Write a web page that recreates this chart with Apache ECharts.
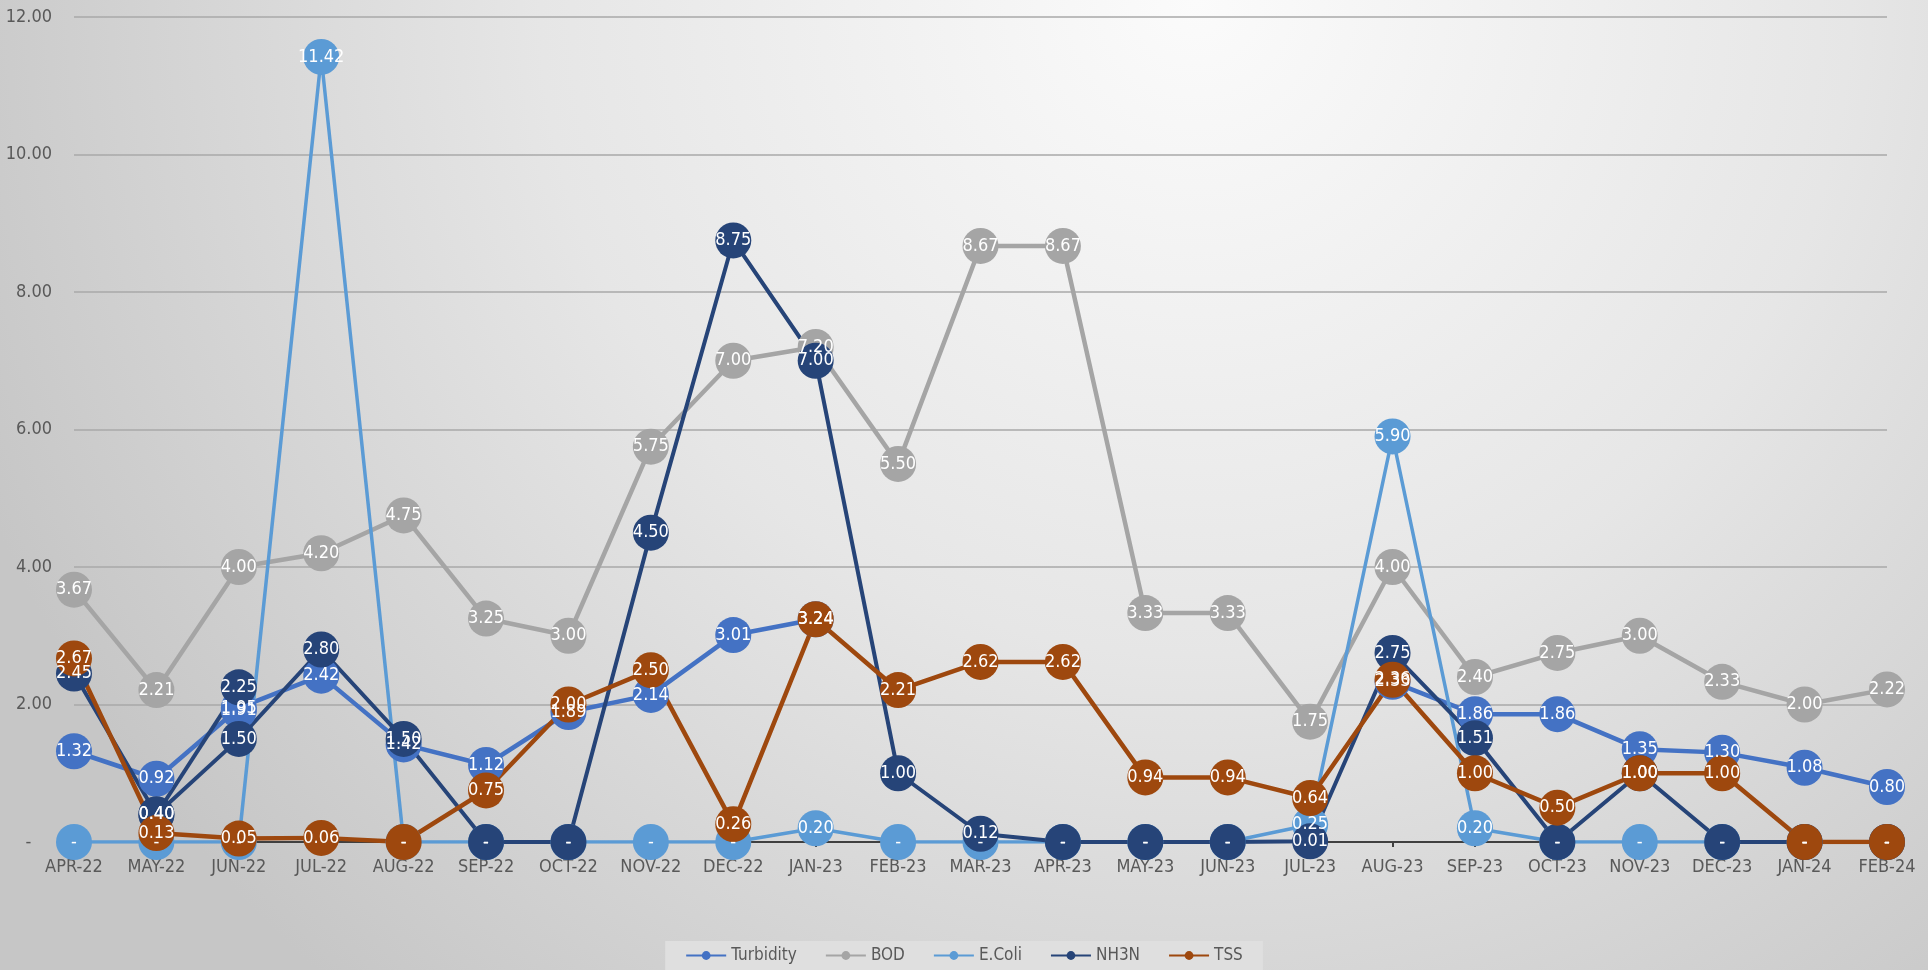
<!DOCTYPE html>
<html>
<head>
<meta charset="utf-8">
<title>Water quality</title>
<script src="https://cdn.jsdelivr.net/npm/echarts@6/dist/echarts.min.js"></script>
<style>
  html, body { margin: 0; padding: 0; }
  #chartLine { width: 1928px; height: 970px; }
</style>
</head>
<body>
<div id="chartLine"></div>
<script>
// months
var months = ["APR-22", "MAY-22", "JUN-22", "JUL-22", "AUG-22", "SEP-22", "OCT-22", "NOV-22",
  "DEC-22", "JAN-23", "FEB-23", "MAR-23", "APR-23", "MAY-23", "JUN-23", "JUL-23", "AUG-23",
  "SEP-23", "OCT-23", "NOV-23", "DEC-23", "JAN-24", "FEB-24"];

var turbidity = [1.32, 0.92, 1.95, 2.42, 1.42, 1.12, 1.89, 2.14, 3.01, 3.24, null, null, null,
  null, null, null, 2.33, 1.86, 1.86, 1.35, 1.30, 1.08, 0.80];
var bod = [3.67, 2.21, 4.00, 4.20, 4.75, 3.25, 3.00, 5.75, 7.00, 7.20, 5.50, 8.67, 8.67,
  3.33, 3.33, 1.75, 4.00, 2.40, 2.75, 3.00, 2.33, 2.00, 2.22];
var ecoli = [0, 0, 0, 11.42, 0, 0, 0, 0, 0, 0.20, 0, 0, 0,
  0, 0, 0.25, 5.90, 0.20, 0, 0, 0, 0, 0];
var nh3n = [2.45, 0.40, 1.50, 2.80, 1.50, 0, 0, 4.50, 8.75, 7.00, 1.00, 0.12, 0,
  0, 0, 0.01, 2.75, 1.51, 0, 1.00, 0, 0, 0];
var tss = [2.67, 0.13, 0.05, 0.06, 0, 0.75, 2.00, 2.50, 0.26, 3.24, 2.21, 2.62, 2.62,
  0.94, 0.94, 0.64, 2.36, 1.00, 0.50, 1.00, 1.00, 0, 0];
// second readings for JUN-22 (no legend entry in the original)
var turbidityDup = [null, null, 1.91];
var nh3nDup = [null, 0.40, 2.25];

var yTicks = { min: 0, max: 12, step: 2 };

var labelFont = "'Liberation Sans Narrow', 'DejaVu Sans Condensed', sans-serif";

function fmt(v) {
  if (v === 0) return "-";
  return Number(v).toFixed(2);
}

function makeSeries(name, data, color, width) {
  return {
    name: name,
    type: "line",
    data: data,
    symbol: "circle",
    symbolSize: 36,
    showAllSymbol: true,
    connectNulls: false,
    lineStyle: { color: color, width: width },
    itemStyle: { color: color },
    label: {
      show: true,
      position: "inside",
      color: "#fff",
      fontFamily: labelFont,
      fontSize: 18,
      formatter: function (p) { return fmt(p.value); }
    }
  };
}

var chartLine = echarts.init(document.getElementById("chartLine"));
chartLine.setOption({
  animation: false,
  backgroundColor: {
    type: "radial",
    x: 0.62,
    y: 0,
    r: 1.35,
    colorStops: [
      { offset: 0, color: "#fbfbfb" },
      { offset: 0.5, color: "#e6e6e6" },
      { offset: 1, color: "#c6c6c6" }
    ]
  },
  legend: {
    bottom: 0,
    left: "center",
    data: ["Turbidity", "BOD", "E.Coli", "NH3N", "TSS"],
    backgroundColor: "#dfdfdf",
    padding: [6, 20, 6, 20],
    itemGap: 28,
    itemWidth: 40,
    itemHeight: 11,
    textStyle: { color: "#595959", fontSize: 17, fontFamily: labelFont }
  },
  grid: {
    left: 74,
    right: 41,
    top: 17,
    bottom: 128
  },
  xAxis: {
    type: "category",
    boundaryGap: false,
    data: months,
    axisLine: { lineStyle: { color: "#404040", width: 2 } },
    axisTick: { show: true, alignWithLabel: true, length: 5, lineStyle: { color: "#404040", width: 2 } },
    axisLabel: { color: "#595959", fontSize: 18, fontFamily: labelFont, margin: 16, interval: 0 }
  },
  yAxis: {
    type: "value",
    min: yTicks.min,
    max: yTicks.max,
    interval: yTicks.step,
    axisLine: { show: false },
    axisTick: { show: false },
    splitLine: { lineStyle: { color: "#a8a8a8", width: 1.5 } },
    axisLabel: {
      color: "#595959",
      fontSize: 18,
      fontFamily: labelFont,
      margin: 22,
      formatter: function (v) { return v === 0 ? "-    " : v.toFixed(2); }
    }
  },
  series: [
    makeSeries("Turbidity", turbidity, "#4472C4", 4.5),
    makeSeries("Turbidity ", turbidityDup, "#4472C4", 4.5),
    makeSeries("BOD", bod, "#A5A5A5", 4.5),
    makeSeries("E.Coli", ecoli, "#5B9BD5", 3.5),
    makeSeries("NH3N ", nh3nDup, "#264478", 4),
    makeSeries("NH3N", nh3n, "#264478", 4),
    makeSeries("TSS", tss, "#9E480E", 4.5)
  ]
});
</script>
</body>
</html>
